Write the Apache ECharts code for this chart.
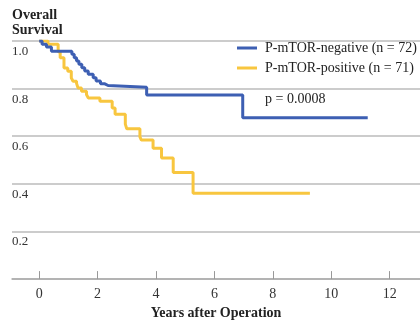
<!DOCTYPE html>
<html><head><meta charset="utf-8">
<script src="https://cdn.jsdelivr.net/npm/echarts@6/dist/echarts.min.js"></script>
<style>html,body{margin:0;padding:0;background:#fff}#c{width:420px;height:325px}</style>
</head><body><div id="c"></div>
<script>
// Data (Kaplan-Meier steps)
const negTimes = [0, 0.1, 0.25, 0.42, 1.12, 1.2, 1.28, 1.36, 1.46, 1.56, 1.68, 1.85, 1.95, 2.1, 2.25, 2.36, 3.68, 6.97, 11.25];
const negSurv  = [1.0, 0.986, 0.975, 0.957, 0.944, 0.93, 0.916, 0.902, 0.888, 0.874, 0.86, 0.846, 0.832, 0.82, 0.813, 0.806, 0.773, 0.678, 0.678];
const posTimes = [0, 0.3, 0.65, 0.72, 0.85, 0.98, 1.1, 1.16, 1.28, 1.33, 1.45, 1.62, 1.68, 2.08, 2.5, 2.6, 2.95, 3.0, 3.45, 3.5, 3.9, 4.19, 4.59, 5.27, 9.27];
const posSurv  = [1.0, 0.986, 0.955, 0.93, 0.887, 0.873, 0.845, 0.831, 0.822, 0.803, 0.789, 0.775, 0.761, 0.747, 0.719, 0.692, 0.651, 0.631, 0.597, 0.584, 0.55, 0.509, 0.448, 0.361, 0.361];
const xTicks = [0, 2, 4, 6, 8, 10, 12];
const seriesNames = ['P-mTOR-negative (n = 72)', 'P-mTOR-positive (n = 71)'];
const pText = 'p = 0.0008';

const FONT = '"Liberation Serif", "DejaVu Serif", serif';
const BLUE = '#3d5fb3', YELLOW = '#f8c63f';
const zip = (a, b) => a.map((v, i) => [v, b[i]]);

const chart = echarts.init(document.getElementById('c'), null, {renderer: 'canvas'});
chart.setOption({
  animation: false,
  title: [
    {text: 'Overall\nSurvival', left: 12, top: 8, padding: 0,
     textStyle: {fontFamily: FONT, fontWeight: 'bold', fontSize: 14, lineHeight: 15, color: '#222'}},
    {text: pText, left: 265, top: 92, padding: 0,
     textStyle: {fontFamily: FONT, fontWeight: 'normal', fontSize: 14, color: '#222'}}
  ],
  legend: {
    orient: 'vertical', left: 237, top: 41, itemGap: 6, padding: 0,
    icon: 'rect', itemWidth: 20, itemHeight: 3,
    textStyle: {fontFamily: FONT, fontSize: 14, color: '#222', padding: [0, 0, 0, 3]},
    data: seriesNames
  },
  grid: {left: 12, right: 0, top: 41, bottom: 38, containLabel: false},
  xAxis: {
    type: 'value', min: -0.93, max: 13.04,
    axisLine: {show: true, lineStyle: {color: '#aaa', width: 1.5}},
    axisTick: {show: true, inside: true, length: 8, customValues: xTicks, lineStyle: {color: '#999'}},
    axisLabel: {customValues: xTicks, margin: 8, fontFamily: FONT, fontSize: 14, color: '#333'},
    splitLine: {show: false},
    name: 'Years after Operation', nameLocation: 'middle', nameGap: 26,
    nameTextStyle: {fontFamily: FONT, fontWeight: 'bold', fontSize: 14, color: '#222'}
  },
  yAxis: {
    type: 'value', min: 0, max: 1, interval: 0.2,
    axisLine: {show: false}, axisTick: {show: false},
    axisLabel: {inside: true, margin: 0, verticalAlign: 'top', align: 'left', padding: [4, 0, 0, 0],
      fontFamily: FONT, fontSize: 13, color: '#333',
      formatter: v => v === 0 ? '' : v.toFixed(1)},
    splitLine: {show: true, lineStyle: {color: '#bbb', width: 1.5}}
  },
  series: [
    {name: seriesNames[1], type: 'line', step: 'end', showSymbol: false, symbol: 'none',
     data: zip(posTimes, posSurv), lineStyle: {color: YELLOW, width: 3}, itemStyle: {color: YELLOW}, z: 2},
    {name: seriesNames[0], type: 'line', step: 'end', showSymbol: false, symbol: 'none',
     data: zip(negTimes, negSurv), lineStyle: {color: BLUE, width: 3}, itemStyle: {color: BLUE}, z: 3}
  ]
});
</script></body></html>
